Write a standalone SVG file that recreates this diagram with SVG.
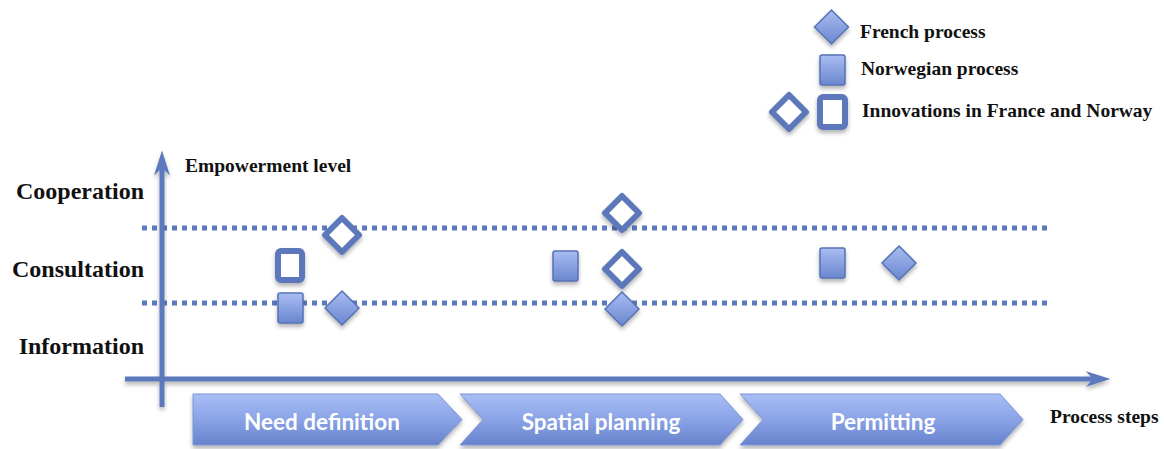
<svg xmlns="http://www.w3.org/2000/svg" width="1164" height="449" viewBox="0 0 1164 449">
<defs>
<linearGradient id="gFill" x1="0" y1="0" x2="0" y2="1">
<stop offset="0" stop-color="#a9bdf2"/>
<stop offset="1" stop-color="#6a86cf"/>
</linearGradient>
<linearGradient id="gChev" x1="0" y1="0" x2="0" y2="1">
<stop offset="0" stop-color="#a8bef6"/>
<stop offset="0.5" stop-color="#8aa3e6"/>
<stop offset="1" stop-color="#6782cc"/>
</linearGradient>
<filter id="sh" x="-30%" y="-30%" width="160%" height="170%">
<feDropShadow dx="0" dy="3" stdDeviation="2" flood-color="#000" flood-opacity="0.3"/>
</filter>
<filter id="shL" filterUnits="userSpaceOnUse" x="0" y="0" width="1164" height="449">
<feDropShadow dx="0" dy="3" stdDeviation="2" flood-color="#000" flood-opacity="0.3"/>
</filter>
<marker id="ah" viewBox="0 0 10 10" refX="3" refY="5" markerWidth="5" markerHeight="3.2" markerUnits="strokeWidth" orient="auto" preserveAspectRatio="none">
<path d="M0,0 L10,5 L0,10 L3,5 Z" fill="#5b79bd"/>
</marker>
</defs>
<style>
.lbl{font-family:"Liberation Serif","Times New Roman",serif;font-weight:bold;fill:#111;}
.big{font-size:24px;text-anchor:end;}
.sm{font-size:19.5px;}
.step{font-family:Lato,"Open Sans",sans-serif;font-weight:bold;font-size:22.5px;fill:#fff;text-anchor:middle;}
.axis{stroke:#5b79bd;stroke-width:5;fill:none;}
.dot{stroke:#5b79bd;stroke-width:5;stroke-dasharray:5 5;fill:none;}
.fill{fill:url(#gFill);stroke:#5572b5;stroke-width:1.5;filter:url(#sh);}
.hollow{fill:#fff;stroke:#5d78ba;stroke-width:6;stroke-linejoin:round;filter:url(#sh);}
.chev{fill:url(#gChev);stroke:#7c95d6;stroke-width:1;filter:url(#sh);}
</style>

<g id="connectors">
<line class="dot" x1="142" y1="228" x2="1048" y2="228"/>
<line class="dot" x1="142" y1="303" x2="1048" y2="303"/>
<g filter="url(#shL)">
<line class="axis" x1="162" y1="407" x2="162" y2="168" marker-end="url(#ah)"/>
<line class="axis" x1="125" y1="379" x2="1093" y2="379" marker-end="url(#ah)"/>
</g>
</g>

<g id="legend">
<path class="fill" d="M831.5,10 L848.5,27 L831.5,44 L814.5,27 Z"/>
<text class="lbl sm" x="860" y="38">French process</text>
<rect class="fill" x="820" y="55" width="25" height="30" rx="2"/>
<text class="lbl sm" x="861" y="75">Norwegian process</text>
<path class="hollow" d="M789,95 L806,112 L789,129 L772,112 Z"/>
<rect class="hollow" x="820" y="97" width="25" height="30" rx="3"/>
<text class="lbl sm" x="862" y="117">Innovations in France and Norway</text>
</g>

<g id="axis-labels">
<text class="lbl sm" x="185" y="172">Empowerment level</text>
<text class="lbl big" x="144" y="199">Cooperation</text>
<text class="lbl big" x="144" y="277">Consultation</text>
<text class="lbl big" x="144" y="354">Information</text>
<text class="lbl sm" x="1050" y="423">Process steps</text>
</g>

<g id="step-need">
<path class="chev" d="M193,394 L438,394 L462,419.5 L438,445 L193,445 Z"/>
<text class="step" x="322" y="430">Need definition</text>
</g>
<g id="step-spatial">
<path class="chev" d="M460,394 L720,394 L743,419.5 L720,445 L460,445 L483,419.5 Z"/>
<text class="step" x="601" y="430">Spatial planning</text>
</g>
<g id="step-permit">
<path class="chev" d="M740,394 L1000,394 L1023,419.5 L1000,445 L740,445 L763,419.5 Z"/>
<text class="step" x="883" y="430">Permitting</text>
</g>

<g id="need-markers">
<path class="hollow" d="M342,218 L359,235 L342,252 L325,235 Z"/>
<rect class="hollow" x="278" y="251" width="24" height="29" rx="3"/>
<rect class="fill" x="278" y="293" width="25" height="30" rx="2"/>
<path class="fill" d="M342,291 L359,308 L342,325 L325,308 Z"/>
</g>

<g id="spatial-markers">
<path class="hollow" d="M622,196 L639,213 L622,230 L605,213 Z"/>
<rect class="fill" x="553" y="251" width="25" height="30" rx="2"/>
<path class="hollow" d="M622,252 L639,269 L622,286 L605,269 Z"/>
<path class="fill" d="M622,292 L639,309 L622,326 L605,309 Z"/>
</g>

<g id="permit-markers">
<rect class="fill" x="820" y="248" width="25" height="30" rx="2"/>
<path class="fill" d="M899,246 L916,263 L899,280 L882,263 Z"/>
</g>
</svg>
